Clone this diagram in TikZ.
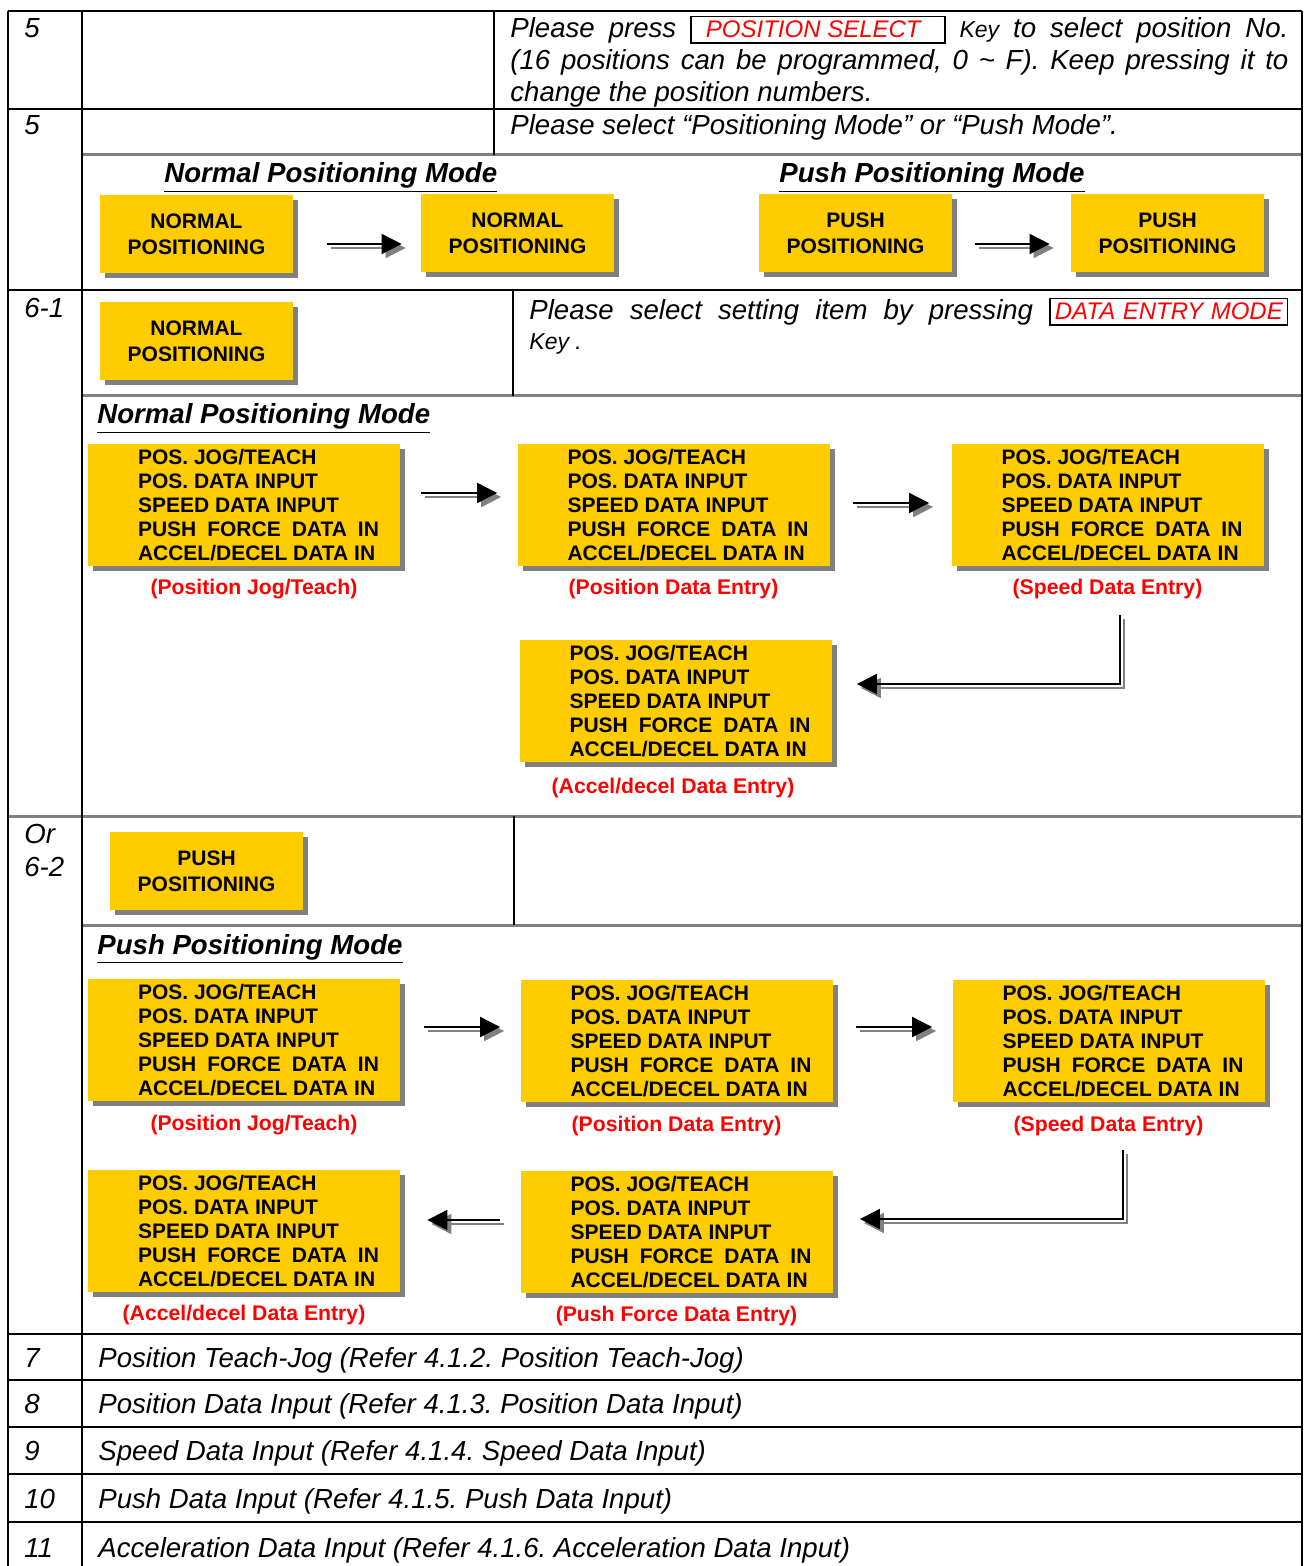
\documentclass[tikz,border=0pt]{standalone}
\usepackage{fontspec}
\setmainfont{Liberation Sans}
\usepackage{xcolor}
\usetikzlibrary{shapes,arrows.meta,positioning,shadows,calc}

\definecolor{boxgold}{HTML}{FFCC00}
\definecolor{shadowgray}{HTML}{808080}
\definecolor{keyred}{HTML}{FF0000}

\setlength{\fboxsep}{2pt}
\setlength{\fboxrule}{0.8pt}
\frenchspacing

\newcommand{\bodysize}{\fontsize{13.8pt}{16pt}\selectfont}
\newcommand{\keysize}{\fontsize{12pt}{14pt}\selectfont}
\newcommand{\keyword}{\fontsize{11.5pt}{13pt}\selectfont}
\newcommand{\boxsize}{\fontsize{10.5pt}{13pt}\selectfont}
\newcommand{\menusize}{\fontsize{10.5pt}{12pt}\selectfont}

\newcommand{\keybox}[1]{\fbox{\makebox[122pt][l]{\hspace{5pt}\keysize\color{keyred}#1}}}
\newcommand{\datakey}{\fbox{\makebox[114pt][s]{\keysize\color{keyred}DATA\hfill ENTRY\hfill MODE}}}
\newcommand{\menutext}{\hspace*{15pt}\parbox{121pt}{\menusize\bfseries
  POS. JOG/TEACH\\
  POS. DATA INPUT\\
  SPEED DATA INPUT\\
  \makebox[120.5pt][s]{PUSH\hfill FORCE\hfill DATA\hfill IN}\\
  ACCEL/DECEL DATA IN}}
\newcommand{\flowline}[2]{%
  \draw[flowshadow,#1] #2;
  \draw[flowarrow,#1] #2;}

\tikzset{
  modebox/.style={fill=boxgold, minimum width=96.5pt, minimum height=39pt, inner sep=0pt,
    align=center, font=\boxsize\bfseries,
    drop shadow={shadow xshift=2.5pt, shadow yshift=-2.5pt, fill=shadowgray, opacity=1}},
  menubox/.style={fill=boxgold, minimum width=156pt, minimum height=61pt, inner sep=0pt,
    drop shadow={shadow xshift=2.5pt, shadow yshift=-2.5pt, fill=shadowgray, opacity=1}},
  capt/.style={inner sep=0pt, text=keyred, font=\fontsize{10.6pt}{12pt}\selectfont\bfseries},
  rowtext/.style={inner sep=0pt, anchor=base west, font=\bodysize\itshape},
  modetitle/.style={inner sep=0pt, anchor=base west, font=\bodysize\bfseries\itshape},
  tabline/.style={line width=1pt},
  graytabline/.style={line width=1.5pt, draw=shadowgray},
  flowarrow/.style={line width=1pt, -{Triangle[length=10pt,width=10pt]}},
  flowshadow/.style={flowarrow, draw=shadowgray, transform canvas={xshift=2pt,yshift=-2pt}},
}

\begin{document}
\begin{tikzpicture}[x=0.5pt,y=-0.5pt]
    \useasboundingbox (0,0) rectangle (1303,1566);

    % Table rules
    \draw[graytabline] (82,155) -- (1302,155);
    \draw[graytabline] (82,396) -- (1302,396);
    \draw[graytabline] (8,816) -- (1302,816);
    \draw[graytabline] (82,925) -- (1302,925);
    \foreach \y in {11,109,290,1334,1380,1427,1474,1522}
        \draw[tabline] (8,\y) -- (1302,\y);
    \draw[tabline] (8,11) -- (8,1566);
    \draw[tabline] (82,11) -- (82,1566);
    \draw[tabline] (1302,11) -- (1302,1566);
    \draw[tabline] (494,11) -- (494,155);
    \draw[tabline] (513,290) -- (513,396);
    \draw[tabline] (514,816) -- (514,925);

    % Step 5
    \node[rowtext] (no5a) at (24,38) {5};
    \node[rowtext] (selL1) at (510,38) {\makebox[389pt][s]{Please press \keybox{POSITION SELECT} {\keyword Key} to select position No.}};
    \node[rowtext] (selL2) at (510,70) {\makebox[389pt][s]{(16 positions can be programmed, 0 \textasciitilde{} F). Keep pressing it to}};
    \node[rowtext] (selL3) at (510,102) {change the position numbers.};
    \node[rowtext] (no5b) at (24,135) {5};
    \node[rowtext] (modeSel) at (510,135) {Please select “Positioning Mode” or “Push Mode”.};

    \node[modetitle] (normTitleA) at (164,183) {\underline{Normal Positioning Mode}};
    \node[modetitle] (pushTitleA) at (779,183) {\underline{Push Positioning Mode}};

    \node[modebox] (normSelA) at (196.5,234.5) {NORMAL\\POSITIONING};
    \node[modebox] (normSelB) at (517.5,233) {NORMAL\\POSITIONING};
    \node[modebox] (pushSelA) at (855.5,233.5) {PUSH\\POSITIONING};
    \node[modebox] (pushSelB) at (1167.5,233) {PUSH\\POSITIONING};

    \flowline{shorten <=17pt, shorten >=9.5pt}{([yshift=-4.75pt]normSelA.east) -- ([yshift=-4.75pt]normSelA.east -| normSelB.west)}
    \flowline{shorten <=11.5pt, shorten >=10.5pt}{([yshift=-5.25pt]pushSelA.east) -- ([yshift=-5.25pt]pushSelA.east -| pushSelB.west)}

    % Step 6-1
    \node[rowtext] (no61) at (24,318) {6-1};
    \node[modebox] (normPick) at (196.5,341) {NORMAL\\POSITIONING};
    \node[rowtext] (itemL1) at (529,320) {\makebox[379.5pt][s]{Please select setting item by pressing \datakey}};
    \node[rowtext, font=\keyword\itshape] (itemL2) at (529,350) {Key .};

    \node[modetitle] (normTitleB) at (97,424) {\underline{Normal Positioning Mode}};

    \node[menubox] (normJog) at (244,505) {\menutext};
    \node[menubox] (normPos) at (673.5,505) {\menutext};
    \node[menubox] (normSpd) at (1107.5,505) {\menutext};
    \node[menubox] (normAcc) at (675.5,701) {\menutext};

    \node[capt, below=6.3pt of normJog, xshift=5pt] (normJogCap) {(Position Jog/Teach)};
    \node[capt, below=6.3pt of normPos] (normPosCap) {(Position Data Entry)};
    \node[capt, below=6.3pt of normSpd] (normSpdCap) {(Speed Data Entry)};
    \node[capt, below=7.5pt of normAcc, xshift=-1.25pt] (normAccCap) {(Accel/decel Data Entry)};

    \coordinate (normTurn) at (1120,615);
    \flowline{shorten <=10.5pt, shorten >=10pt}{([yshift=6pt]normJog.east) -- ([yshift=6pt]normJog.east -| normPos.west)}
    \flowline{shorten <=11.5pt, shorten >=11pt}{([yshift=1pt]normPos.east) -- ([yshift=1pt]normPos.east -| normSpd.west)}
    \flowline{shorten >=12.5pt}{(normTurn) |- ([yshift=8.5pt]normAcc.east)}

    % Step 6-2
    \node[rowtext] (noOr) at (24,843) {Or};
    \node[rowtext] (no62) at (24,876) {6-2};
    \node[modebox] (pushPick) at (206.5,871) {PUSH\\POSITIONING};

    \node[modetitle] (pushTitleB) at (97,954) {\underline{Push Positioning Mode}};

    \node[menubox] (pushJog) at (244,1040) {\menutext};
    \node[menubox] (pushPos) at (676.5,1041) {\menutext};
    \node[menubox] (pushSpd) at (1108.5,1041) {\menutext};
    \node[menubox] (pushFrc) at (676.5,1232) {\menutext};
    \node[menubox] (pushAcc) at (244,1231) {\menutext};

    \node[capt, below=6.5pt of pushJog, xshift=5pt] (pushJogCap) {(Position Jog/Teach)};
    \node[capt, below=6.5pt of pushPos] (pushPosCap) {(Position Data Entry)};
    \node[capt, below=6.5pt of pushSpd] (pushSpdCap) {(Speed Data Entry)};
    \node[capt, below=6.3pt of pushFrc] (pushFrcCap) {(Push Force Data Entry)};
    \node[capt, below=6.3pt of pushAcc] (pushAccCap) {(Accel/decel Data Entry)};

    \coordinate (pushTurn) at (1123,1150);
    \flowline{shorten <=12pt, shorten >=10pt}{([yshift=6.5pt]pushJog.east) -- ([yshift=6.5pt]pushJog.east -| pushPos.west)}
    \flowline{shorten <=11.5pt, shorten >=10pt}{([yshift=7pt]pushPos.east) -- ([yshift=7pt]pushPos.east -| pushSpd.west)}
    \flowline{shorten >=13.5pt}{(pushTurn) |- ([yshift=6.5pt]pushFrc.east)}
    \flowline{shorten <=10pt, shorten >=13.5pt}{([yshift=6pt]pushFrc.west) -- ([yshift=6pt]pushFrc.west -| pushAcc.east)}

    % Steps 7 to 11
    \node[rowtext] (no7) at (24,1367) {7};
    \node[rowtext] (ref7) at (98,1367) {Position Teach-Jog (Refer 4.1.2. Position Teach-Jog)};
    \node[rowtext] (no8) at (24,1413) {8};
    \node[rowtext] (ref8) at (98,1413) {Position Data Input (Refer 4.1.3. Position Data Input)};
    \node[rowtext] (no9) at (24,1460) {9};
    \node[rowtext] (ref9) at (98,1460) {Speed Data Input (Refer 4.1.4. Speed Data Input)};
    \node[rowtext] (no10) at (24,1508) {10};
    \node[rowtext] (ref10) at (98,1508) {Push Data Input (Refer 4.1.5. Push Data Input)};
    \node[rowtext] (no11) at (24,1557) {11};
    \node[rowtext] (ref11) at (98,1557) {Acceleration Data Input (Refer 4.1.6. Acceleration Data Input)};
\end{tikzpicture}
\end{document}
